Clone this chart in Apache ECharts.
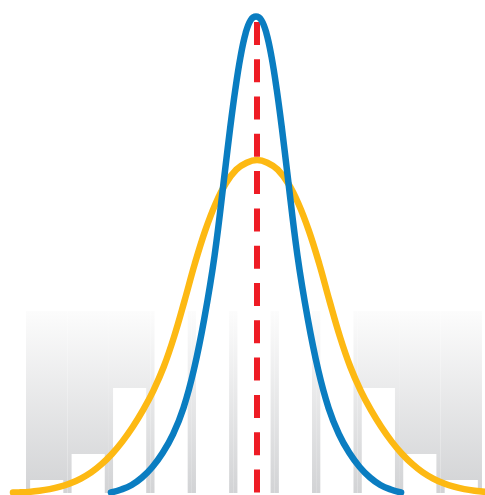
<!DOCTYPE html>
<html><head><meta charset="utf-8">
<script src="https://cdn.jsdelivr.net/npm/echarts@6/dist/echarts.min.js"></script>
<style>html,body{margin:0;padding:0;background:#fff}#c{width:485px;height:495px}</style>
</head><body><div id="c"></div>
<script>
// Histogram bins (background)
const binLabels = ['-5','-4','-3','-2','-1','0','1','2','3','4','5'];
const binBackground = [100,100,100,100,100,100,100,100,100,100,100];
const binWhite = [7.1,21.4,57.7,100,100,100,100,100,57.7,21.4,7.1];

// Narrow distribution (blue)
const blueX = [-3.524,-3.274,-3.024,-2.774,-2.524,-2.274,-2.024,-1.774,-1.524,-1.274,-1.024,-0.774,-0.649,-0.524,-0.399,-0.274,-0.149,-0.024,
               0.101,0.226,0.351,0.476,0.601,0.726,0.976,1.226,1.476,1.726,1.976,2.226,2.476,2.726,2.976,3.226,3.476];
const blueY = [0,0.0063,0.0158,0.0315,0.0536,0.0834,0.1227,0.1777,0.2576,0.3643,0.4977,0.6744,0.7649,0.8464,0.9149,0.9653,0.9929,1.0,
               0.9929,0.9653,0.9149,0.8464,0.7649,0.6744,0.4977,0.3643,0.2576,0.1777,0.1227,0.0834,0.0536,0.0315,0.0158,0.0063,0];

// Wide distribution (yellow)
const yellowX = [-5.887,-5.75,-5.5,-5.25,-5.0,-4.75,-4.5,-4.25,-4.0,-3.75,-3.5,-3.25,-3.0,-2.75,-2.5,-2.25,-2.0,-1.75,-1.5,-1.25,-1.0,-0.75,-0.5,-0.25,0,
                 0.25,0.5,0.75,1.0,1.25,1.5,1.75,2.0,2.25,2.5,2.75,3.0,3.25,3.5,3.75,4.0,4.25,4.5,4.75,5.0,5.25,5.5,5.75,6.0];
const yellowY = [0,0.0002,0.0013,0.0036,0.0071,0.0122,0.0193,0.0292,0.0422,0.0595,0.0809,0.1069,0.1376,0.1729,0.2141,0.2641,0.3275,0.4023,0.4809,0.5502,0.6067,0.6498,0.6784,0.6929,0.6985,
                 0.6929,0.6784,0.6498,0.6067,0.5502,0.4809,0.4023,0.3275,0.2641,0.2141,0.1729,0.1376,0.1069,0.0809,0.0595,0.0422,0.0292,0.0193,0.0122,0.0071,0.0036,0.0013,0.0002,0];

// Mean marker
const meanX = [0, 0];
const meanY = [0, 1];

const zip = (xs, ys) => xs.map((x, i) => [x, ys[i]]);

const chart = echarts.init(document.getElementById('c'), null, {renderer: 'canvas'});
chart.setOption({
  animation: false,
  backgroundColor: '#ffffff',
  grid: [
    {left: 26, right: 3, top: 311, bottom: 2},
    {left: 0, right: 0, top: 16.5, bottom: 2.5}
  ],
  xAxis: [
    {type: 'category', gridIndex: 0, data: binLabels, show: false},
    {type: 'category', gridIndex: 0, data: binLabels, show: false},
    {type: 'value', gridIndex: 1, min: -6.2, max: 5.5, show: false}
  ],
  yAxis: [
    {type: 'value', gridIndex: 0, min: 0, max: 100, show: false},
    {type: 'value', gridIndex: 1, min: 0, max: 1, show: false}
  ],
  series: [
    {
      type: 'bar', xAxisIndex: 0, yAxisIndex: 0, data: binBackground,
      barWidth: '100%', barCategoryGap: '0%', z: 1, silent: true,
      itemStyle: {color: new echarts.graphic.LinearGradient(0, 0, 0, 1, [
        {offset: 0, color: '#fcfcfc'},
        {offset: 1, color: '#d2d3d5'}
      ])}
    },
    {
      type: 'bar', xAxisIndex: 1, yAxisIndex: 0, data: binWhite,
      barWidth: '80%', z: 2, silent: true,
      itemStyle: {color: '#ffffff'}
    },
    {
      type: 'line', xAxisIndex: 2, yAxisIndex: 1, data: zip(yellowX, yellowY),
      smooth: 0.4, showSymbol: false, z: 3, clip: false,
      lineStyle: {color: '#fdb913', width: 6.5, cap: 'round'}
    },
    {
      type: 'line', xAxisIndex: 2, yAxisIndex: 1, data: zip(meanX, meanY),
      showSymbol: false, z: 4,
      lineStyle: {color: '#ee1c25', width: 6, type: [23, 14.3]}
    },
    {
      type: 'line', xAxisIndex: 2, yAxisIndex: 1, data: zip(blueX, blueY),
      smooth: 0.4, showSymbol: false, z: 5, clip: false,
      lineStyle: {color: '#0a7dc1', width: 6.5, cap: 'round'}
    }
  ]
});
</script>
</body></html>
